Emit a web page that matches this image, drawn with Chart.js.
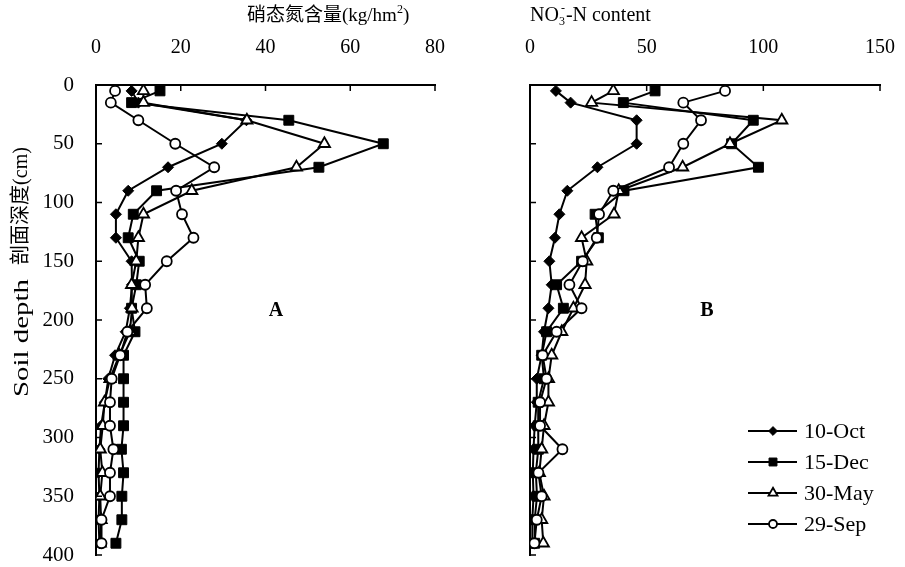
<!DOCTYPE html>
<html>
<head>
<meta charset="utf-8">
<script src="https://cdn.jsdelivr.net/npm/chart.js@4.4.0/dist/chart.umd.min.js"></script>
<style>
  body { margin: 0; background: #fff; width: 905px; height: 567px; position: relative; overflow: hidden; }
  #boxA { position: absolute; left: 0; top: 0; width: 460px; height: 567px; }
  #boxB { position: absolute; left: 460px; top: 0; width: 445px; height: 567px; }
</style>
</head>
<body>
<div id="boxA"><canvas id="chartA"></canvas></div>
<div id="boxB"><canvas id="chartB"></canvas></div>
<script>
// soil depths (cm) of the sampling layers
const depths = [5, 15, 30, 50, 70, 90, 110, 130, 150, 170, 190, 210, 230, 250, 270, 290, 310, 330, 350, 370, 390];
const seriesNames = ['10-Oct', '15-Dec', '30-May', '29-Sep'];

// panel A
const octA = [8.4, 10, 35.5, 29.7, 17, 7.6, 4.7, 4.7, 8.4, 8.5, 8, 7, 4.5, 2.9, 2.1, 1.2, 0.8, 0.6, 0.8, 0.6, 0.8];
const decA = [15.1, 8.4, 45.5, 67.8, 52.6, 14.3, 8.8, 7.6, 10.2, 9.5, 8.4, 9.2, 6.5, 6.5, 6.5, 6.5, 6.0, 6.5, 6.1, 6.1, 4.7];
const mayA = [11.2, 11.2, 35.6, 53.9, 47.3, 22.6, 11.2, 10.0, 9.5, 8.4, 8.5, 8.0, 5.5, 3.3, 2.0, 1.6, 1.0, 1.5, 1.0, 1.2, 1.0];
const sepA = [4.5, 3.5, 10.0, 18.7, 27.9, 18.9, 20.3, 23.0, 16.7, 11.6, 12.0, 7.4, 5.7, 3.7, 3.3, 3.3, 4.1, 3.3, 3.3, 1.3, 1.3];

// panel B
const octB = [11.1, 17.4, 45.7, 45.7, 28.9, 16.0, 12.6, 10.7, 8.3, 9.3, 7.9, 6.0, 5.0, 2.9, 2.9, 2.0, 1.5, 1.2, 1.5, 1.0, 1.0];
const decB = [53.6, 40.0, 95.7, 86.4, 97.9, 40.3, 27.9, 29.3, 22.1, 11.4, 14.3, 7.1, 5.0, 6.0, 3.5, 3.5, 3.6, 2.5, 3.0, 2.0, 2.0];
const mayB = [35.7, 26.4, 107.9, 85.7, 65.4, 38.0, 36.0, 22.1, 24.3, 23.6, 18.6, 13.6, 9.3, 7.9, 7.9, 6.0, 5.0, 4.0, 6.0, 5.0, 5.7];
const sepB = [83.6, 65.7, 73.3, 65.7, 59.6, 35.7, 29.6, 28.6, 22.6, 16.9, 22.1, 11.4, 5.4, 7.1, 4.3, 4.3, 13.9, 3.6, 5.0, 2.9, 1.9];

const xMaxA = 80, xStepA = 20;
const xMaxB = 150, xStepB = 50;
const yMax = 400, yStep = 50;

const SERIF = '"Liberation Serif", "Times New Roman", serif';
const CJK = '"Liberation Serif", "Noto Sans CJK SC", serif';
Chart.defaults.font.family = SERIF;
Chart.defaults.color = '#000';

const markStyles = [
  { pointStyle: 'rectRot', pointRadius: 5.5, pointBackgroundColor: '#000', pointBorderWidth: 1 },
  { pointStyle: 'rect', pointRadius: 7, pointBackgroundColor: '#000', pointBorderWidth: 1 },
  { pointStyle: 'triangle', pointRadius: 6.5, pointBackgroundColor: '#fff', pointBorderWidth: 1.8 },
  { pointStyle: 'circle', pointRadius: 5, pointBackgroundColor: '#fff', pointBorderWidth: 1.8 }
];

function makeDatasets(list) {
  return list.map((vals, i) => Object.assign({
    label: seriesNames[i],
    data: vals.map((v, k) => ({ x: v, y: depths[k] })),
    showLine: true,
    borderColor: '#000',
    borderWidth: 2,
    pointBorderColor: '#000',
    order: 3 - i
  }, markStyles[i]));
}

// short tick marks drawn inside the plot, like the original
const inwardTicks = {
  id: 'inwardTicks',
  afterDraw(chart) {
    const ctx = chart.ctx;
    const xs = chart.scales.x, ys = chart.scales.y;
    ctx.save();
    ctx.strokeStyle = '#000';
    ctx.lineWidth = 1.5;
    ctx.beginPath();
    xs.ticks.forEach(t => {
      const px = xs.getPixelForValue(t.value);
      ctx.moveTo(px, xs.bottom);
      ctx.lineTo(px, xs.bottom + 6);
    });
    ys.ticks.forEach(t => {
      const py = ys.getPixelForValue(t.value);
      ctx.moveTo(ys.right, py);
      ctx.lineTo(ys.right + 6, py);
    });
    ctx.stroke();
    ctx.restore();
  }
};

const labelsA = {
  id: 'labelsA',
  afterDraw(chart) {
    const ctx = chart.ctx;
    ctx.save();
    ctx.fillStyle = '#000';
    ctx.textBaseline = 'middle';
    // top title
    ctx.textAlign = 'left';
    ctx.font = '19px ' + CJK;
    let tx = 247;
    const t1 = '硝态氮含量(kg/hm';
    ctx.fillText(t1, tx, 16);
    tx += ctx.measureText(t1).width;
    ctx.font = '12px ' + SERIF;
    ctx.fillText('2', tx, 10);
    tx += ctx.measureText('2').width;
    ctx.font = '19px ' + SERIF;
    ctx.fillText(')', tx, 16);
    // vertical axis title
    ctx.save();
    ctx.translate(22, 0);
    ctx.rotate(-Math.PI / 2);
    ctx.textAlign = 'center';
    ctx.font = '22px ' + SERIF;
    ctx.save();
    ctx.translate(-338, 0);
    const w1 = ctx.measureText('Soil depth').width;
    ctx.scale(118 / w1, 1);
    ctx.fillText('Soil depth', 0, 0);
    ctx.restore();
    ctx.font = '20px ' + CJK;
    ctx.fillText('剖面深度(cm)', -206, 0);
    ctx.restore();
    // panel letter
    ctx.textAlign = 'center';
    ctx.font = 'bold 20px ' + SERIF;
    ctx.fillText('A', 276, 311);
    ctx.restore();
  }
};

const labelsB = {
  id: 'labelsB',
  afterDraw(chart) {
    const ctx = chart.ctx;
    const metas = chart.data.datasets;
    ctx.save();
    ctx.fillStyle = '#000';
    ctx.textBaseline = 'middle';
    ctx.textAlign = 'left';
    // top title NO3- -N content
    let tx = 70;
    ctx.font = '20px ' + SERIF;
    ctx.fillText('NO', tx, 16);
    tx += ctx.measureText('NO').width;
    ctx.font = '12px ' + SERIF;
    ctx.fillText('3', tx, 22);
    ctx.fillText('-', tx + 2, 9);
    tx += ctx.measureText('3').width + 1;
    ctx.font = '20px ' + SERIF;
    ctx.fillText('-N content', tx, 16);
    // panel letter
    ctx.textAlign = 'center';
    ctx.font = 'bold 20px ' + SERIF;
    ctx.fillText('B', 247, 311);
    // legend
    ctx.textAlign = 'left';
    ctx.font = '22px ' + SERIF;
    const rowY = [431, 462, 493, 524];
    metas.forEach((ds, i) => {
      const y = rowY[i];
      ctx.strokeStyle = '#000';
      ctx.lineWidth = 2;
      ctx.beginPath();
      ctx.moveTo(288, y);
      ctx.lineTo(337, y);
      ctx.stroke();
      ctx.fillStyle = ds.pointBackgroundColor;
      ctx.lineWidth = ds.pointBorderWidth;
      Chart.helpers.drawPoint(ctx, {
        pointStyle: ds.pointStyle,
        radius: ds.pointRadius * 0.8,
        rotation: 0,
        borderWidth: ds.pointBorderWidth
      }, 313, y);
      ctx.fillStyle = '#000';
      ctx.fillText(ds.label, 344, y + 1);
    });
    ctx.restore();
  }
};

function makeChart(id, datasets, xMax, xStep, leftWidth, showY, extra) {
  return new Chart(document.getElementById(id), {
    type: 'scatter',
    data: { datasets: datasets },
    options: {
      responsive: true,
      maintainAspectRatio: false,
      animation: false,
      layout: { padding: { top: 0, left: 0, right: 25, bottom: 12 } },
      plugins: { legend: { display: false }, tooltip: { enabled: false } },
      scales: {
        x: {
          type: 'linear',
          position: 'top',
          min: 0,
          max: xMax,
          ticks: { stepSize: xStep, padding: 25, font: { size: 20 }, color: '#000' },
          grid: { display: false, drawTicks: false },
          border: { display: true, color: '#000', width: 2 },
          afterFit(s) { s.height = 85; s.paddingLeft = 0; s.paddingRight = 0; }
        },
        y: {
          type: 'linear',
          reverse: true,
          min: 0,
          max: yMax,
          ticks: { display: showY, stepSize: yStep, padding: 22, font: { size: 21 }, color: '#000' },
          grid: { display: false, drawTicks: false },
          border: { display: true, color: '#000', width: 2 },
          afterFit(s) { s.width = leftWidth; s.paddingTop = 0; s.paddingBottom = 0; }
        }
      }
    },
    plugins: [inwardTicks, extra]
  });
}

makeChart('chartA', makeDatasets([octA, decA, mayA, sepA]), xMaxA, xStepA, 96, true, labelsA);
makeChart('chartB', makeDatasets([octB, decB, mayB, sepB]), xMaxB, xStepB, 70, false, labelsB);
</script>
</body>
</html>
